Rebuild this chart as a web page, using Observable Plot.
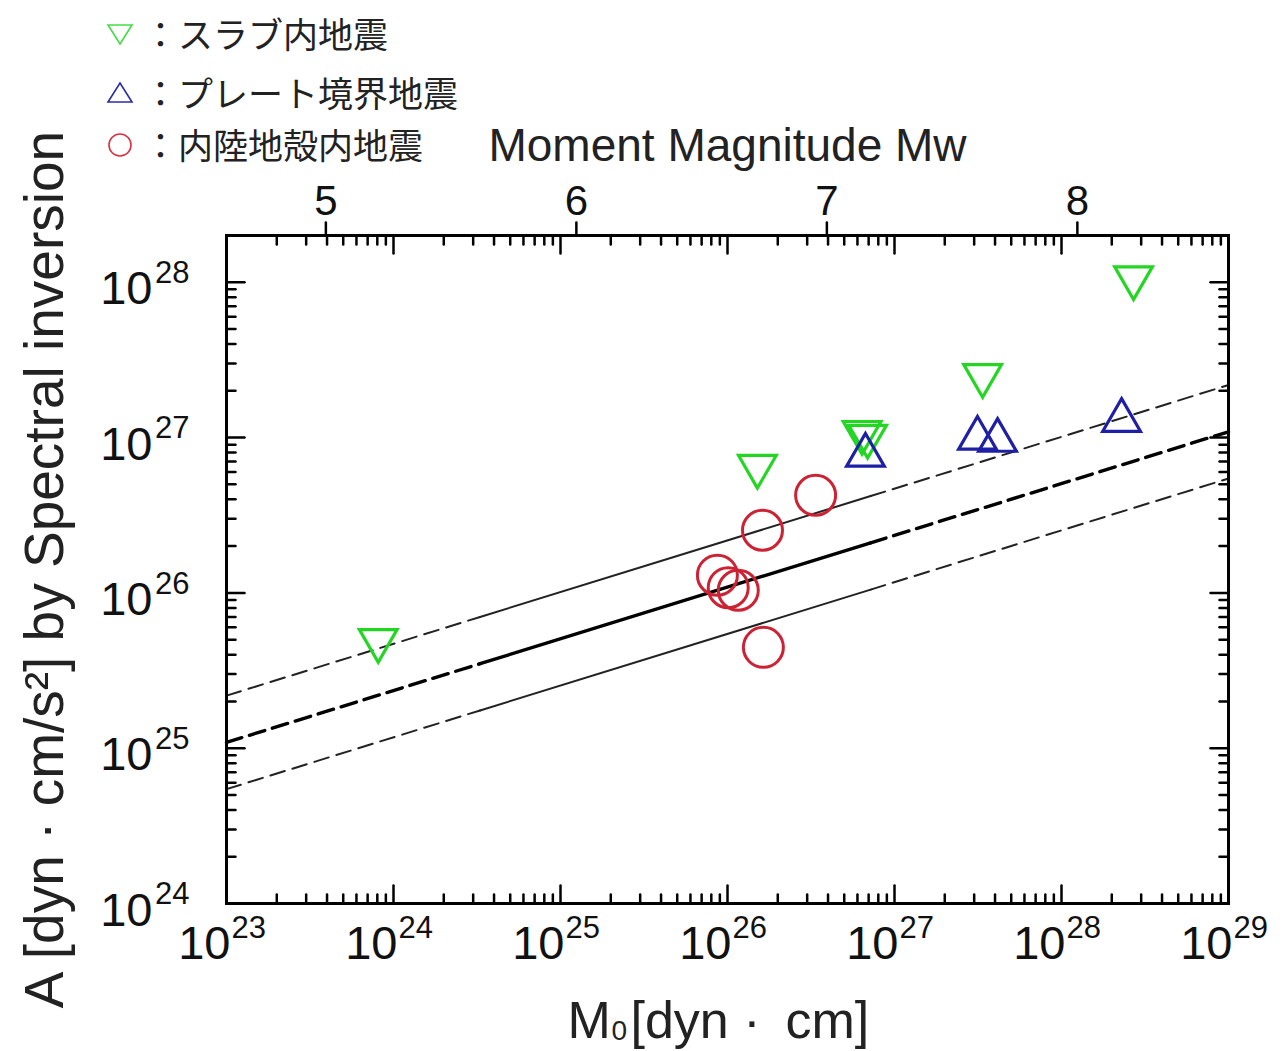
<!DOCTYPE html>
<html><head><meta charset="utf-8">
<script src="https://cdn.jsdelivr.net/npm/d3@7"></script>
<script src="https://cdn.jsdelivr.net/npm/@observablehq/plot@0.6"></script>
<style>
body{margin:0;background:#fff;}
#wrap{position:relative;width:1285px;height:1051px;overflow:hidden;}
#legend{position:absolute;left:0;top:0;font-family:"Noto Sans CJK JP","Noto Sans CJK SC",sans-serif;font-size:35px;color:#222;}
.row{position:absolute;white-space:nowrap;line-height:1;}
.sym{position:absolute;line-height:0;}
.sym svg{display:block;}
</style></head><body><div id="wrap"><div id="legend"></div></div>
<script>
// ---- data ----
// スラブ内地震 (intraslab)
const slabM0 = [8.1e23, 1.51e26, 6.4e26, 6.9e26, 3.37e27, 2.7e28];
const slabA  = [4.94e25, 6.53e26, 1.08e27, 1.02e27, 2.51e27, 1.07e28];
// プレート境界地震 (plate boundary)
const plateM0 = [6.7e26, 3.14e27, 4.14e27, 2.29e28];
const plateA  = [7.69e26, 9.89e26, 9.59e26, 1.29e27];
// 内陸地殻内地震 (inland crustal)
const crustM0 = [1.62e26, 3.37e26, 8.7e25, 1.01e26, 1.16e26, 1.64e26];
const crustA  = [2.53e26, 4.25e26, 1.30e26, 1.08e26, 1.04e26, 4.46e25];
// reference lines, read at the ends and at the solid-part break points
const lineM0  = [1e23, 3.3e24, 7.2e26, 1e29];
const centerA = [1.09e25, 3.5e25, 2.1e26, 1.09e27];
const upperA  = [2.18e25, 7.0e25, 4.2e26, 2.18e27];
const lowerA  = [5.45e24, 1.75e25, 1.05e26, 5.45e26];
// ticks
const xExponents = [23, 24, 25, 26, 27, 28, 29];
const yExponents = [24, 25, 26, 27, 28];
const mwTicks = [5, 6, 7, 8];
const legendLabels = ["：スラブ内地震", "：プレート境界地震", "：内陸地殻内地震"];
const legendKinds = ["slab", "plate", "crust"];

// ---- build ----
const GREEN = "#22d622", BLUE = "#1f1fa6", RED = "#cc2233";
const pts = (xs, ys) => xs.map((x, i) => ({x, y: ys[i]}));
const slab = pts(slabM0, slabA), plate = pts(plateM0, plateA), crust = pts(crustM0, crustA);

function segs(ys, parts) {
  const out = [];
  for (const s of parts) { out.push({x: lineM0[s], y: ys[s], s}); out.push({x: lineM0[s+1], y: ys[s+1], s}); }
  return out;
}
const xMajor = xExponents.map(e => 10 ** e);
const yMajor = yExponents.map(e => 10 ** e);
const xMinor = [], yMinor = [];
for (const e of xExponents.slice(0, -1)) for (let k = 2; k < 10; k++) xMinor.push(k * 10 ** e);
for (const e of yExponents) for (let k = 2; k < 10; k++) if (k * 10 ** e <= 2e28) yMinor.push(k * 10 ** e);
const mwToM0 = mw => 10 ** (1.5 * (mw + 10.73));

const tickShape = {draw(context, l) { context.moveTo(0, 0); context.lineTo(0, -l); }};
const tk = (data, o) => Plot.vector(data, {anchor: "start", shape: tickShape, stroke: "black", strokeWidth: 2.5, ...o});
const FONT = "Liberation Sans, Arial, Helvetica, sans-serif";

const chart = Plot.plot({
  width: 1285, height: 1051,
  marginLeft: 226, marginRight: 57, marginTop: 235, marginBottom: 148,
  style: {fontFamily: FONT, background: "white", color: "black"},
  x: {type: "log", domain: [1e23, 1e29], axis: null},
  y: {type: "log", domain: [1e24, 2e28], axis: null},
  marks: [
    // reference lines
    Plot.line(segs(centerA, [0, 2]), {x: "x", y: "y", z: "s", stroke: "black", strokeWidth: 3.4, strokeDasharray: "16,8"}),
    Plot.line(segs(centerA, [1]), {x: "x", y: "y", z: "s", stroke: "black", strokeWidth: 3.4}),
    Plot.line(segs(upperA, [0, 2]), {x: "x", y: "y", z: "s", stroke: "#222", strokeWidth: 2, strokeDasharray: "15,8"}),
    Plot.line(segs(upperA, [1]), {x: "x", y: "y", z: "s", stroke: "#222", strokeWidth: 2}),
    Plot.line(segs(lowerA, [0, 2]), {x: "x", y: "y", z: "s", stroke: "#222", strokeWidth: 2, strokeDasharray: "15,8"}),
    Plot.line(segs(lowerA, [1]), {x: "x", y: "y", z: "s", stroke: "#222", strokeWidth: 2}),
    // points
    Plot.dot(crust, {x: "x", y: "y", r: 20, stroke: RED, strokeWidth: 3, fill: "none"}),
    Plot.dot(slab, {x: "x", y: "y", symbol: "triangle", rotate: 180, r: 14, stroke: GREEN, strokeWidth: 3.2, fill: "none"}),
    Plot.dot(plate, {x: "x", y: "y", symbol: "triangle", r: 14, stroke: BLUE, strokeWidth: 3.2, fill: "none"}),
    // frame
    Plot.frame({stroke: "black", strokeWidth: 3}),
    // ticks (inward) bottom/top
    tk(xMajor, {x: d => d, frameAnchor: "bottom", length: 18, rotate: 0}),
    tk(xMinor, {x: d => d, frameAnchor: "bottom", length: 9, rotate: 0}),
    tk(xMajor, {x: d => d, frameAnchor: "top", length: 18, rotate: 180}),
    tk(xMinor, {x: d => d, frameAnchor: "top", length: 9, rotate: 180}),
    // ticks left/right
    tk(yMajor, {y: d => d, frameAnchor: "left", length: 18, rotate: 90}),
    tk(yMinor, {y: d => d, frameAnchor: "left", length: 9, rotate: 90}),
    tk(yMajor, {y: d => d, frameAnchor: "right", length: 18, rotate: -90}),
    tk(yMinor, {y: d => d, frameAnchor: "right", length: 9, rotate: -90}),
    // Mw ticks (outward, top)
    tk(mwTicks, {x: mwToM0, frameAnchor: "top", length: 13, rotate: 0}),
    // tick labels bottom
    Plot.text(xMajor, {x: d => d, frameAnchor: "bottom", text: () => "10", textAnchor: "end", lineAnchor: "top", dx: 4, dy: 22, fontSize: 47, fill: "#111"}),
    Plot.text(xExponents, {x: e => 10 ** e, frameAnchor: "bottom", text: e => String(e), textAnchor: "start", lineAnchor: "top", dx: 5, dy: 12, fontSize: 31, fill: "#111"}),
    // tick labels left
    Plot.text(yMajor, {y: d => d, frameAnchor: "left", text: () => "10", textAnchor: "end", lineAnchor: "middle", dx: -74, dy: 7, fontSize: 47, fill: "#111"}),
    Plot.text(yExponents, {y: e => 10 ** e, frameAnchor: "left", text: e => String(e), textAnchor: "end", lineAnchor: "middle", dx: -37, dy: -9, fontSize: 31, fill: "#111"}),
    // Mw labels
    Plot.text(mwTicks, {x: mwToM0, frameAnchor: "top", text: d => String(d), lineAnchor: "bottom", dy: -21, fontSize: 42, fill: "#111"}),
    // axis titles
    Plot.text(["Moment Magnitude Mw"], {frameAnchor: "top", lineAnchor: "bottom", dy: -75, fontSize: 46, fill: "#222"}),
    Plot.text(["M"], {frameAnchor: "bottom", textAnchor: "start", lineAnchor: "top", dx: -160, dy: 98, fontSize: 52, fill: "#222"}),
    Plot.text(["0"], {frameAnchor: "bottom", textAnchor: "start", lineAnchor: "top", dx: -116, dy: 117, fontSize: 28, fill: "#222"}),
    Plot.text(["[dyn · \u2009cm]"], {frameAnchor: "bottom", textAnchor: "start", lineAnchor: "top", dx: -97, dy: 98, fontSize: 52, fill: "#222"}),
    Plot.text(["A [dyn · cm/s²] by Spectral inversion"], {frameAnchor: "left", rotate: -90, textAnchor: "middle", lineAnchor: "middle", dx: -181, dy: 0, fontSize: 55, fill: "#222"})
  ]
});
const wrap = document.getElementById("wrap");
wrap.insertBefore(chart, wrap.firstChild);

// legend
const legend = document.getElementById("legend");
const rowTops = [15, 74, 126];
const symSvg = {
  slab: `<svg width="30" height="26" viewBox="0 0 30 26"><polygon points="3,4 27,4 15,23" fill="none" stroke="#44dd44" stroke-width="1.6"/></svg>`,
  plate: `<svg width="30" height="26" viewBox="0 0 30 26"><polygon points="3,22 27,22 15,3" fill="none" stroke="#2b2ba8" stroke-width="1.6"/></svg>`,
  crust: `<svg width="30" height="26" viewBox="0 0 30 26"><circle cx="15" cy="13" r="11" fill="none" stroke="#d83344" stroke-width="1.6"/></svg>`
};
legendLabels.forEach((lab, i) => {
  const s = document.createElement("div");
  s.className = "sym"; s.style.left = "105px"; s.style.top = (rowTops[i] + 6) + "px";
  s.innerHTML = symSvg[legendKinds[i]];
  legend.appendChild(s);
  const r = document.createElement("div");
  r.className = "row"; r.style.left = "143px"; r.style.top = rowTops[i] + "px";
  r.textContent = lab;
  legend.appendChild(r);
});
</script></body></html>
